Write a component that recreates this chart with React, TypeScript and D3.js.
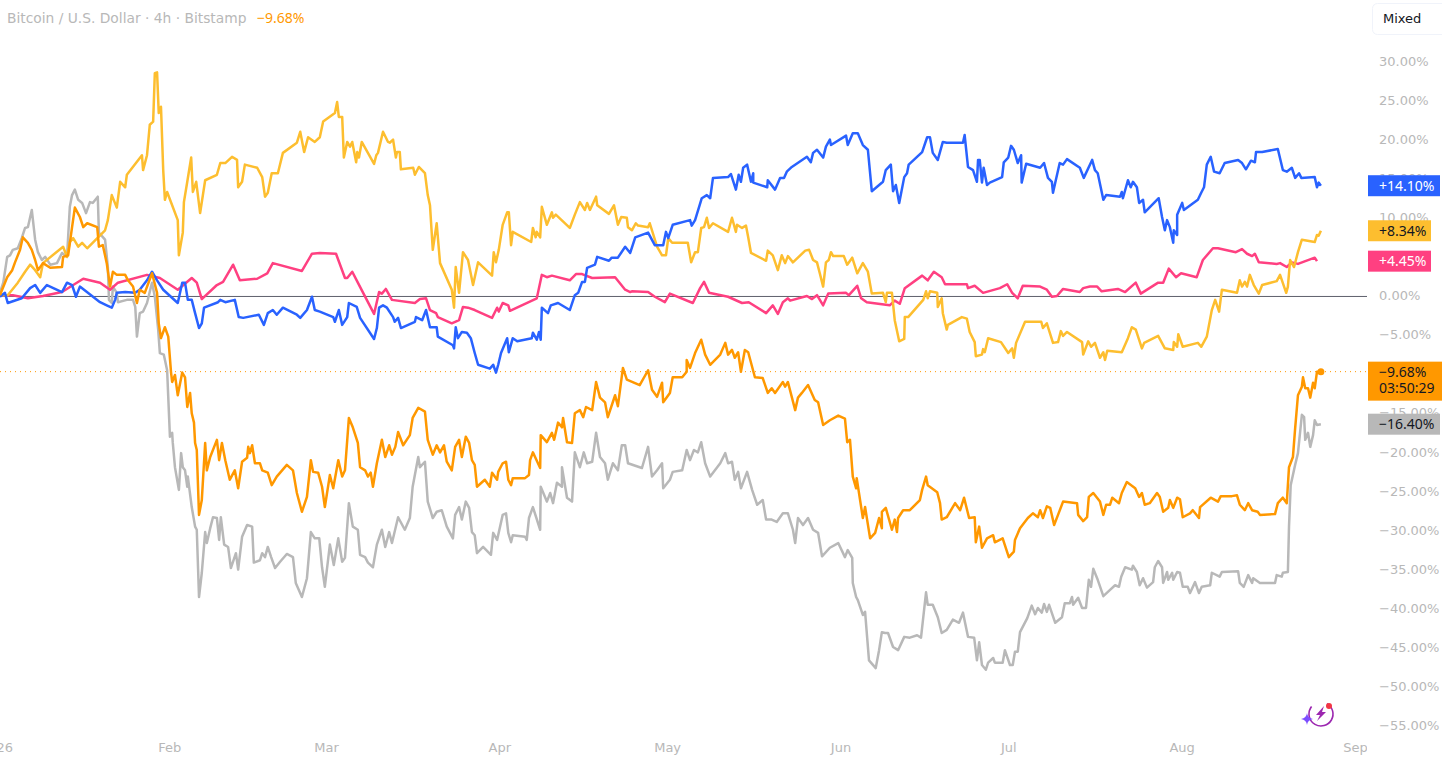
import { useEffect, useRef } from "react";
import * as d3 from "d3";

type Pt = [number, number]; // [days since 1 Jan 2026, % change]

const yTicks = [30, 25, 20, 15, 10, 5, 0, -5, -10, -15, -20, -25, -30, -35, -40, -45, -50, -55];
const monthStarts = [0, 31, 59, 90, 120, 151, 181, 212, 243];
const monthLabels = ["2026", "Feb", "Mar", "Apr", "May", "Jun", "Jul", "Aug", "Sep"];

const btc: Pt[] = [[0.7,0.1],[1.6,1.7],[2,2.4],[2.9,3.3],[3.4,4.3],[4.3,5.9],[4.8,7.5],[5.7,6.8],[6.4,5.9],[7,4.6],[7.5,3.3],[8.4,4.2],[9.7,3.6],[11.8,3.7],[12,5],[12.9,5.2],[13.6,8.8],[14.1,11.3],[15,10.1],[15.6,8.8],[16.3,9.3],[18.1,8.8],[18.4,6.3],[19.1,6.5],[19.8,4.2],[20.4,1.2],[20.9,3.1],[21.6,2.7],[23.1,2.7],[23.6,2],[24.5,1.2],[25.2,-0.9],[25.7,0.8],[26.6,0.4],[27.9,2.9],[28.8,0.4],[29.1,-3.5],[29.5,-5.4],[30.2,-4],[30.8,-5.2],[31.3,-9.8],[31.5,-11],[32,-10.1],[32.5,-12.7],[33.3,-9.8],[33.8,-10.4],[34.2,-14.2],[34.7,-12.4],[35,-15],[35.4,-16.2],[35.6,-18.8],[35.9,-19.7],[36.3,-28],[36.8,-26.1],[37.4,-18.8],[37.7,-22.3],[38.3,-20.6],[39.5,-18.4],[39.9,-21],[40.4,-18.8],[41,-21],[41.8,-23.5],[42.7,-22.3],[43.3,-24.6],[44,-21.2],[44.9,-20.7],[45.1,-19.3],[45.4,-20.1],[45.8,-19.1],[46.3,-21.4],[47.2,-21.4],[47.6,-22.3],[48.6,-22.6],[49.3,-24.2],[50.2,-23.1],[52,-21.6],[53.1,-22.3],[53.8,-25.2],[54.7,-27.6],[55.6,-25.7],[56.3,-21],[56.7,-22.5],[57.6,-22.6],[58.3,-24.4],[58.8,-27],[59.7,-22.9],[60.3,-24.6],[61.2,-21],[61.9,-23.1],[62.4,-22.3],[63.1,-15.6],[63.8,-16.8],[64.7,-18.8],[65.1,-21.9],[66,-22.3],[66.5,-23.1],[67,-22.6],[67.4,-24.4],[68.1,-21.4],[69,-18.4],[69.6,-20.6],[70.3,-19.1],[70.8,-20.3],[71.4,-19.3],[71.9,-17.4],[72.8,-19.1],[74,-17.8],[74.5,-15.6],[75.5,-14.3],[76.7,-14.8],[77.2,-18.4],[78.1,-20.3],[78.8,-19.1],[79.4,-20],[80.1,-19.1],[80.6,-21.2],[81.5,-22.3],[82.1,-19.3],[82.8,-18.4],[83.3,-20.6],[84,-18],[84.6,-18.8],[85.1,-21],[85.6,-21.6],[86,-24.4],[87.4,-23.5],[88.3,-24.4],[88.7,-22.6],[89.6,-23.5],[89.8,-22.5],[90.6,-21.4],[91.2,-21.2],[91.6,-23.5],[92.1,-24.2],[92.4,-23.3],[94.6,-23.3],[95.3,-22.9],[95.5,-21],[96,-20],[97.3,-22],[97.4,-17.8],[98.5,-18.7],[99.4,-17.5],[99.8,-18.4],[100.5,-16.2],[101.2,-16.8],[101.4,-15.6],[102.1,-18.7],[103,-18.8],[103.5,-15],[104.4,-14.6],[105,-15.5],[105.5,-14.2],[106.6,-14.6],[107.3,-11],[108,-13],[108.9,-13.6],[109.4,-15.5],[110.7,-12.7],[111.2,-14.1],[112.1,-9.2],[112.8,-10.7],[115.1,-11.4],[116.6,-9.5],[117.3,-12],[118.2,-12.9],[119.1,-11.1],[119.3,-13.6],[120.5,-12.4],[121,-10.4],[122.7,-10.4],[123.5,-9.7],[123.5,-8.2],[124.1,-9.2],[125,-7.3],[126.1,-5.6],[126.8,-7.5],[127.7,-8.8],[129.5,-7.5],[130.4,-6],[130.9,-7.5],[131.6,-6.9],[132.1,-7.9],[132.7,-7.2],[133.2,-9.7],[133.9,-6.9],[134.5,-7.2],[135.7,-10.4],[137.1,-10.5],[138,-12.4],[138.7,-11.8],[139.3,-12.4],[140.7,-11],[141.1,-11.6],[141.6,-11],[142.9,-14.6],[143.4,-13],[144.1,-12.4],[145.2,-11.4],[146.4,-13.3],[147,-13.6],[147.9,-16.5],[149.1,-15.9],[150.6,-15.3],[151.8,-15.7],[152.2,-18.7],[152.7,-18.4],[153.2,-23.1],[153.8,-24.6],[153.9,-23.3],[155,-28.4],[155.4,-27],[156.3,-31],[157.2,-30.3],[157.9,-28.4],[158.4,-29.7],[158.4,-27.6],[159.1,-27.1],[160.2,-29.9],[160.7,-28.6],[161.1,-30.2],[161.3,-28.4],[162.2,-27.4],[163.4,-27.4],[165.2,-26.1],[165.6,-24.8],[166.3,-23.1],[166.6,-24.2],[168.3,-25.1],[168.8,-26.5],[169.1,-28.6],[170,-28.3],[171.5,-26.5],[172.4,-27.4],[173.1,-25.8],[174,-28.4],[175,-28.3],[175.2,-31.5],[175.8,-29.5],[176.3,-32.2],[177.2,-31],[178.3,-30.6],[178.6,-31.5],[180,-31],[181.1,-33.4],[182,-32.7],[182.2,-31.2],[183.1,-29.7],[184.5,-28.4],[185.4,-27.8],[186.3,-28.3],[186.7,-27.4],[187.2,-28.4],[187.9,-26.9],[188.5,-27.1],[189.2,-29.3],[189.9,-28],[190.8,-26.3],[193.3,-26.5],[193.5,-28],[194.4,-28.8],[195.1,-28.3],[195.4,-25.7],[196.2,-25.2],[197.4,-26.3],[198,-28],[198.5,-26.7],[199.2,-26.7],[199.6,-25.8],[200.8,-26.5],[201.3,-25.2],[202.2,-23.8],[203.7,-24.6],[204.4,-25.7],[204.9,-25.2],[205.4,-26.7],[206.3,-26.5],[207.6,-25.2],[208.1,-25.7],[208.7,-27.6],[209.6,-27.1],[209.9,-26.1],[210.5,-27.1],[211.2,-25.8],[211.7,-26],[212.2,-28.3],[213.5,-27.8],[214,-27.4],[215.1,-28.4],[215.3,-27],[217.2,-25.8],[218.5,-26.3],[219,-25.6],[221,-25.6],[221.9,-25.5],[222.4,-26.7],[223.3,-27.4],[223.9,-26.5],[224.6,-27.4],[225.6,-27.6],[226,-28],[228.7,-27.9],[229.2,-26.5],[230.1,-25.8],[230.8,-26.5],[231.2,-21.9],[231.9,-20.6],[232.3,-16.9],[232.8,-12.7],[233.5,-11.6],[233.7,-10.4],[234.1,-11.8],[234.6,-11.8],[235,-13],[235.5,-11.1],[235.8,-11.8],[236.2,-9.7],[236.9,-9.68]];

const gray: Pt[] = [[0.7,0.4],[1.3,1.7],[2,5],[2.5,5.2],[3,5.9],[3.9,6.1],[4.6,7.4],[5.2,8.7],[5.7,8.8],[6.4,11],[7,7.2],[7.5,5.6],[8.2,4.6],[8.8,5],[9.7,4],[10.9,4.2],[11.8,5.5],[12.7,5],[13.2,11.4],[13.6,12.9],[14.1,13.6],[14.7,12.3],[15.4,11.9],[16.1,10.6],[16.8,12],[17.3,11.9],[18.2,12.7],[18.4,8.1],[19.5,7.2],[20,3.7],[20.2,-0.5],[20.7,-0.9],[20.9,1.2],[21.6,0.4],[21.8,-0.8],[23.4,-0.5],[24.5,-0.5],[24.9,-1.4],[25.2,-5.2],[25.7,-2.2],[26.3,-2],[27,-0.9],[27.9,1.7],[28.4,-0.1],[29,-4.3],[29.3,-7.3],[30,-7.5],[30.6,-9.5],[30.8,-12.9],[31.1,-18],[31.5,-17.5],[31.6,-18.7],[32,-21.9],[32.7,-24.8],[33.1,-20.1],[33.4,-21.9],[33.8,-22.3],[34.2,-24.4],[34.3,-23.1],[35,-27],[35.6,-29.5],[35.9,-29.9],[36.3,-38.5],[36.8,-35.4],[37.4,-30.2],[37.7,-31.6],[38.3,-29.7],[38.8,-28.3],[39.5,-28.4],[39.9,-31.2],[40.2,-28.3],[40.8,-31.8],[41.5,-32.1],[42,-34.8],[42.9,-32.9],[43.3,-35],[44,-30.8],[44.9,-29.3],[45.8,-29.5],[46.1,-34.1],[47.2,-33.8],[47.6,-32.9],[48.1,-33.4],[48.6,-32.1],[49.2,-33.4],[49.9,-34.8],[50.8,-34],[52,-33],[53.1,-33.4],[53.6,-36.7],[54.7,-38.5],[55.6,-36.1],[56.3,-30.2],[57,-31],[57.8,-31],[58.3,-34.7],[58.8,-37.2],[59.7,-31.8],[60.4,-34.4],[61.2,-31],[61.9,-34],[62.4,-33.5],[63.1,-26.5],[63.8,-29.5],[64.7,-29.9],[65.1,-33.1],[66,-33.4],[66.5,-34.1],[67.4,-34.7],[68.1,-31.8],[69,-29.9],[69.6,-32.1],[70.3,-30.2],[70.8,-31.6],[71.9,-28.3],[73.1,-29.9],[74,-28.4],[74.5,-24.4],[75.5,-20.6],[75.8,-21.9],[76.7,-21.2],[77.2,-26.3],[78.1,-28.4],[78.8,-27.6],[79.7,-27.4],[80.6,-29.5],[81.7,-31],[82.1,-28],[82.8,-27],[83.3,-28.6],[84,-26.3],[84.6,-27.1],[85.1,-30.2],[85.6,-30.6],[86,-32.9],[87.1,-32.1],[88.5,-33.1],[88.9,-30.3],[89.6,-31.2],[90.6,-28],[91.2,-27.8],[91.6,-30.3],[92.1,-31.5],[92.4,-30.6],[94.6,-30.8],[94.9,-31.2],[95.3,-28.4],[96,-27],[97.3,-29.9],[97.4,-24.4],[98.5,-26.3],[99.1,-25.2],[99.6,-26.5],[100.3,-23.9],[101.2,-24.4],[101.2,-21.9],[102.1,-25.8],[103,-26.3],[103.5,-20],[104.4,-21.9],[105.1,-20],[105.7,-21.4],[106.6,-21.2],[107.3,-17.5],[108,-20.6],[108.9,-21.4],[109.4,-23.5],[110.3,-21.4],[111.2,-22.3],[111.9,-19.1],[112.5,-19.1],[113,-21.4],[115.5,-22],[116.6,-19.3],[117.3,-23.1],[118.2,-22.3],[119.1,-21.4],[119.3,-24.6],[120.5,-23.5],[121,-22.5],[122.7,-22.3],[123.5,-19.7],[124.1,-21],[124.8,-19.7],[125.5,-20],[126.1,-18.7],[126.8,-21.4],[127.7,-23.1],[129.5,-21.4],[130.4,-20.1],[130.9,-21.4],[131.6,-21.2],[132.1,-23.5],[132.7,-22.5],[133.2,-24.6],[134.3,-22.5],[135.2,-24.8],[136.1,-26.7],[137.1,-26.1],[137.7,-28.6],[138.7,-28.6],[139.6,-28.9],[140.7,-27.8],[141.6,-27.8],[142.5,-29.9],[142.9,-31.6],[143.4,-28.4],[144.3,-29.3],[145.2,-28.4],[146.1,-29.9],[147,-30.3],[147.7,-33.3],[149.1,-32.2],[150.6,-31.6],[151.8,-33.4],[152.3,-32.5],[153.1,-33.5],[153.2,-36.7],[153.8,-38.5],[154.1,-38.9],[155,-40.8],[155.4,-40.4],[156.1,-46.6],[157.3,-47.6],[157.9,-45.3],[158.4,-43],[159,-43.1],[159.5,-43.1],[160.4,-44.9],[161.3,-45.3],[162.4,-43.6],[163.4,-43.7],[164.7,-43.4],[165.4,-43.7],[166.3,-37.9],[166.6,-39.5],[167.5,-39.5],[168.4,-41.1],[169.1,-43.1],[170,-42.7],[171.1,-41.4],[172.2,-41.8],[172.9,-40.5],[173.8,-43.6],[174.9,-43.7],[175.4,-46.6],[175.8,-44.3],[176.3,-47.2],[177,-47.8],[177.4,-46.9],[178.3,-46.3],[178.6,-46.9],[180,-46.9],[180.4,-45.3],[181.3,-47.2],[181.8,-47.2],[182.2,-45.5],[182.7,-45.5],[183.1,-43],[184.4,-41.2],[185.2,-39.6],[185.8,-40.7],[186.3,-39.9],[187,-40.5],[187.4,-39.4],[187.9,-40.4],[188.3,-39.5],[189.4,-41.8],[190.6,-41.1],[191.1,-39.3],[192,-39.3],[192.4,-38.5],[192.6,-39.5],[193.5,-38.6],[194.2,-39.9],[194.9,-39.9],[195.4,-36.3],[195.8,-37.2],[196.2,-34.9],[197,-36.3],[198,-38.4],[199.2,-37.6],[200.1,-37],[200.8,-37.2],[201.2,-35.9],[201.9,-34.7],[203.1,-35],[203.3,-34.5],[204,-35.3],[204.5,-37],[205.1,-36.1],[205.8,-37.3],[206.9,-36.6],[207.2,-34.7],[207.8,-33.9],[208.5,-34.7],[208.7,-36.7],[209.4,-35.3],[209.6,-36.3],[210.3,-35.4],[210.5,-36.3],[211.2,-35.3],[211.7,-35.4],[212.2,-37.2],[213.1,-37.2],[213.5,-38],[214.4,-36.6],[215.1,-38],[215.6,-37.2],[217.1,-37],[217.4,-35.4],[218.8,-35.9],[219.2,-35.3],[222.1,-35.2],[222.4,-36.7],[223.1,-37.2],[223.9,-35.7],[224.6,-36.7],[224.8,-36.1],[226,-36.7],[228.7,-36.7],[229,-35.7],[229.9,-35.9],[230.1,-35.4],[231,-35.3],[231.2,-29.5],[231.5,-24.2],[232.3,-21.6],[232.8,-20.1],[233.5,-15.2],[233.9,-15.5],[234.1,-18.4],[234.6,-17.5],[235,-19.3],[235.5,-17.8],[235.8,-15.9],[236.2,-16.5],[236.9,-16.4]];

const yellow: Pt[] = [[0.7,0.1],[2.1,0.1],[3.9,1.7],[5.2,3.1],[6.1,4],[7,3.3],[7.9,2.4],[8.4,4.2],[12,6.3],[12.7,5],[13.2,6.9],[13.8,7.4],[14.7,6.3],[15.4,6.8],[16.3,6.1],[19.5,8.4],[20,9.7],[20.7,12.9],[21.6,11.3],[22.2,14.6],[23.1,13.9],[23.4,15.5],[26.1,18],[26.3,16.1],[27,18],[27.5,21.9],[28.1,22.3],[28.4,28.5],[28.8,28.6],[29.1,23.4],[29.5,24.2],[29.9,16.1],[30.2,12.3],[30.6,13.3],[32.5,9.7],[32.7,5.2],[33.4,8.1],[33.6,12],[34.2,14.6],[34.9,17.7],[35.2,13.3],[35.8,14.6],[36.5,10.6],[37.4,14.8],[39.5,15.5],[40.1,17],[41,17],[42.2,17.8],[43.1,17.4],[43.3,13.9],[44,14.6],[44.5,16.8],[46.7,16.4],[47.6,15.2],[48.1,12.7],[48.6,13.2],[49.3,15.7],[50.4,15.7],[51.3,18.3],[53.8,19.6],[54.4,21],[55.1,18.4],[55.8,20.3],[57,19.7],[57.9,20.3],[58.5,22.3],[60.6,23.4],[61,24.8],[61.3,22.9],[61.9,22.9],[62.2,17.7],[62.8,19.7],[63.3,19.1],[63.7,19.7],[64.4,17.1],[64.6,18.4],[64.9,17.7],[65.4,19.7],[67.6,16.9],[68,18],[68.3,18.3],[69.2,21],[70.1,19.7],[70.4,19.6],[71,20],[71.5,17.7],[71.7,18.4],[72.2,18.4],[72.4,16.2],[74.6,16.4],[74.9,15.5],[75.6,16.5],[76.7,15.7],[77.2,12.9],[77.6,11.6],[78.1,5.9],[78.8,9.3],[79.4,4.2],[81.5,0.8],[81.9,-1.5],[82.2,3.7],[82.8,0.4],[83.5,5.6],[84.4,4.6],[85.3,1.4],[86.2,4.3],[88.7,2.6],[89,5.6],[89.4,4.3],[89.9,5.9],[90.6,9.1],[91.4,10.7],[91.7,10.7],[92.1,6.5],[92.4,8.2],[95.7,6.9],[96,8.7],[96.5,7.5],[96.7,8.2],[97.3,7.5],[97.6,11.4],[98.5,9.1],[99.4,10.7],[99.6,10],[100.1,10.4],[102.6,8.7],[103.5,10.4],[104.4,12],[105.3,11],[105.7,11.9],[106.2,11],[107.3,12.7],[107.5,11.6],[109.6,10.5],[110.5,11.6],[111.2,9.1],[111.8,10.1],[112.8,10],[113,8.8],[113.7,8.4],[114.4,9.3],[114.8,9],[116.6,8.8],[116.9,9.3],[118.2,6.3],[119.1,5.2],[119.8,5.2],[120.2,7.4],[120.9,6.8],[123.7,6.8],[124.3,4.3],[125,5.6],[125.5,5.6],[126.1,8.7],[126.6,8.8],[127.1,10],[127.5,8.7],[128.2,9.3],[130.9,8.2],[131.6,10],[132.3,8.2],[132.5,9.1],[133.4,8.7],[134.1,9],[134.5,7.5],[135,5.5],[137.7,4.5],[138,5.8],[138.9,5.2],[139.8,3.3],[140.5,5.2],[141.1,4.2],[141.6,5.1],[142.5,4.3],[144.7,5.8],[145.4,5.9],[146.1,4.6],[146.8,4.3],[147.3,2.9],[147.9,1.2],[148.4,4.3],[148.9,4.6],[149.3,5.6],[149.7,5.1],[151.6,5.1],[152.2,4],[153.1,4.9],[154,2.9],[155,4.2],[155.9,3.1],[156.6,0.3],[158.6,0.4],[159.1,-0.8],[159.3,0.4],[160.2,0.4],[160.7,-3.1],[161.5,-5.8],[162.4,-5.5],[162.5,-2.7],[163.1,-2.7],[165.8,-0.5],[166.3,0.6],[166.6,-0.3],[167,0.6],[168.3,0.4],[168.4,-1.4],[169.1,-0.3],[169.3,-2.2],[170,-4.3],[170.2,-3.7],[172.7,-2.7],[173.6,-2.9],[174.1,-4.6],[175,-5.9],[175.2,-7.7],[176.3,-7.5],[176.5,-6.8],[176.8,-7.2],[177.4,-5.4],[179.7,-5.9],[181,-7.3],[181.7,-6.7],[182,-7.9],[182.4,-6],[184,-3.3],[186.9,-3.3],[187.2,-4.1],[187.9,-3.5],[189,-6],[189.9,-5.9],[190.4,-4.5],[190.8,-5.1],[191.5,-4.6],[194.2,-5.9],[194.4,-7.5],[195.3,-5.8],[195.8,-6.5],[196.5,-6],[197.4,-7.9],[198,-7.2],[198.3,-8.2],[198.7,-7],[201.3,-7.2],[202.4,-5.4],[203.1,-4],[203.8,-4.3],[204.9,-6.7],[205.3,-6],[207.8,-5.1],[209,-6.7],[210.5,-6.9],[210.6,-5.9],[211.2,-6.5],[211.4,-4.9],[212.2,-6.5],[214.9,-6],[215.5,-6.5],[216.5,-5.2],[217.4,-1.8],[218,-0.5],[218.7,-2],[219.2,0.8],[221.9,0.4],[222.4,2],[222.8,1.2],[223.3,1.8],[223.7,1.2],[224.2,2.7],[224.9,1.4],[225.8,0.3],[226.4,1.4],[229,1.9],[229.6,2.7],[230.7,0.4],[231,1.2],[231.4,4.6],[232.1,3.7],[232.8,5.6],[233.5,7.2],[235.8,6.9],[236.2,7.8],[236.5,7.7],[236.9,8.34]];

const blue: Pt[] = [[0.7,-0.1],[1.6,0.4],[2.1,-0.9],[4.6,-0.3],[6.1,1],[7,1.4],[7.9,0.4],[9.1,1.4],[11.8,0.5],[12.7,1.7],[13.6,1.4],[14.3,-0.1],[15,1.2],[18.6,-0.8],[19.8,-1.2],[20.7,-1.5],[21.3,-0.5],[21.6,0.4],[23.1,0.5],[24.9,0.4],[25.7,0.8],[27,2],[27.9,3.1],[28.8,2],[29.9,0.8],[32.5,-0.9],[33.3,1.7],[33.8,1.7],[34.3,-0.5],[35,-0.5],[35.6,-2.2],[36.3,-4.1],[36.8,-3.5],[37.2,-1.5],[39.7,-0.8],[40.1,-0.5],[41,-0.8],[42.7,-0.5],[43.4,-2.7],[44.2,-2.8],[47,-2.4],[47.9,-3.7],[48.6,-2.2],[49.5,-1.8],[50.2,-2.4],[51.3,-1.5],[53.8,-2.4],[54.4,-2.8],[55.6,-1.8],[56.5,-0.1],[57,-1.8],[57.9,-2],[60.3,-2.7],[60.6,-3.3],[61.3,-1.8],[61.9,-3.7],[62.8,-2.7],[63.1,-0.9],[64.5,-1.4],[65.1,-2.8],[67.6,-5.5],[68.1,-4.1],[68.5,-1.5],[69.2,-1.2],[69.9,-1.5],[71,-2.7],[71.3,-3.3],[71.9,-2.8],[72.4,-4.1],[74.9,-3.3],[75.1,-2.7],[76.2,-3.1],[76.9,-1.8],[77.6,-4],[78.8,-4],[79,-5.2],[81.7,-6.3],[81.9,-6.7],[82.2,-4],[82.6,-5.4],[83.3,-4.6],[84.2,-4.7],[84.9,-5.4],[85.6,-7.3],[86.2,-8.8],[88.3,-9.3],[88.9,-8.8],[89.4,-9.8],[89.8,-8.8],[90.3,-7.3],[91.4,-5.4],[91.7,-7.2],[92.4,-5.4],[93.2,-5.8],[95.8,-5.4],[96,-4.7],[96.7,-5.6],[97.1,-4.6],[97.4,-5.6],[97.6,-1.5],[98.7,-2.2],[99.2,-1.2],[100.5,-0.9],[102.6,-1.8],[103.5,0.1],[104.1,0.4],[104.8,1.8],[105.3,1.8],[105.7,3.6],[107.1,4],[107.5,5],[109.6,4.5],[110.1,4.9],[111.2,4.9],[112.5,6.3],[113.4,5.5],[114.3,7.5],[116.6,8.1],[117.8,6.5],[119.3,6.5],[119.8,8.2],[120.2,7.4],[121,9.1],[124.1,9.7],[124.4,9],[125,9.7],[126.2,12.5],[127.1,12.9],[127.7,12.5],[128.2,15.1],[130.9,15.2],[131.4,15.6],[132.3,13.6],[132.8,15.5],[133.2,14.6],[133.6,16.4],[134.3,16.8],[135,14.6],[135.4,15.7],[135.4,14.5],[137.9,13.9],[138,14.8],[139.3,13.6],[140.2,15.1],[140.9,15.1],[141.4,15.9],[142.3,16.5],[145,17.8],[145.7,17.1],[146.1,18.3],[146.8,18.7],[147.9,17.7],[148.4,19.1],[149.1,20],[149.3,19.3],[152,20.5],[152.3,19.3],[153.2,20.8],[154.1,20.8],[155,19.3],[155.9,18.7],[156.6,13.4],[158.6,14.6],[159.1,16.1],[160,16.8],[160.4,13.4],[160.9,14.2],[161.5,11.9],[162.4,15.2],[162.9,15.7],[163.2,16.8],[165.6,18.4],[166.5,20.3],[167,20.3],[167.5,18.3],[168.4,17.4],[169.3,19.7],[170,19.6],[172.9,19.6],[173.2,20.6],[173.8,16.5],[174.7,16.1],[175.4,14.6],[175.6,17.4],[175.9,17.4],[176.3,14.5],[176.6,16.4],[177.2,14.2],[177.7,14.5],[179.9,15.2],[180.2,17.1],[181,17.7],[181.5,19.2],[182,18.7],[182.7,17],[183.3,18],[183.4,14.5],[184.2,16.9],[186.7,16.4],[187.4,17],[188.1,15.1],[188.8,14.6],[189,13.2],[189.5,14.8],[190.2,17],[190.8,16.8],[191.5,17.5],[193.8,16.4],[194.5,15.1],[196,17.4],[196.5,16.1],[197,15.7],[198,12.3],[198.5,12.9],[201,12.7],[201.3,13.3],[201.5,12.5],[202.4,14.8],[202.9,13.9],[203.3,14.6],[204,13.9],[204.4,11.9],[205.1,12.3],[205.4,10.7],[207.9,12.5],[208.5,10.1],[209,8.4],[209.4,9.7],[209.9,8.8],[210.5,6.8],[210.6,8.4],[211.2,7.8],[211.2,10.4],[212.1,11.9],[212.4,11],[214.9,12.3],[215.5,13.2],[216,13.9],[216.5,16.8],[217.2,17.8],[217.8,15.9],[218.8,15.7],[219.7,17],[222.1,17.4],[222.8,17],[223.5,16.2],[224.4,17.3],[225.1,17.1],[225.3,18.4],[226.4,18.4],[229.2,18.8],[230.1,16.1],[230.8,15.9],[231.7,16.4],[232.3,15.1],[233,15.7],[233.4,15.1],[235.8,15.2],[236.2,13.9],[236.5,14.5],[236.9,14.1]];

const pink: Pt[] = [[0.7,0.1],[3,0.1],[5.7,-0.3],[8.4,0],[11.8,0.5],[15.6,2.2],[18.6,1.7],[20.4,0.8],[21.8,1.7],[27,2.7],[29.3,2.3],[32.5,0.8],[35,2.3],[35.9,1.7],[36.8,-0.4],[39.5,1.4],[40.6,1.8],[42.4,4],[43.6,2],[46.7,2.2],[48.5,2.9],[49.5,4.2],[54.7,3.2],[56.5,5.4],[57.9,5.5],[60.8,5.4],[62.4,2.3],[62.8,2.3],[63.7,3.1],[64.7,1.7],[67.6,-2.3],[68.5,0.5],[69,0.3],[69.7,0.9],[70.8,-0.5],[74.9,-0.9],[75.8,-0.4],[76.9,-0.3],[77.6,-1.8],[78.7,-2.2],[79,-2.7],[81.5,-3.5],[82.8,-3.1],[83.5,-1.4],[84.4,-1.5],[85.6,-1.8],[88.7,-2.8],[89.6,-1.5],[89.9,-2],[90.6,-0.9],[91.6,-1.2],[91.9,-1.9],[96.7,-0.3],[97.6,2.7],[98.5,2.4],[99.4,2.6],[102.6,2],[103.7,2.8],[104.8,2.8],[106.6,2.3],[110.7,2.4],[112.5,0.8],[113.4,0.5],[113.7,0.6],[116.6,0.5],[117.8,-0.1],[119.6,-0.8],[120.5,0.3],[124.6,-0.9],[125.9,1],[126.6,1.8],[127.5,0.4],[130.9,-0.1],[133.4,-0.9],[134.6,-0.8],[137.7,-2.2],[138.9,-1.2],[139.8,-2.3],[140.7,-0.8],[141.6,-0.3],[142,-0.6],[145,0],[145.9,-0.4],[146.8,0.1],[147.9,-1.2],[148.8,0.3],[152,0.4],[152.5,0.1],[154,1.3],[154.7,-0.3],[155.7,-0.8],[159.8,-1.2],[160.7,-0.6],[161.6,-1],[162.5,1],[165.6,2.6],[166.6,2],[167.7,3.1],[169.1,2.4],[169.7,1.5],[173.6,1.5],[173.8,1],[175,1.3],[176.5,0.4],[179.5,1],[180.8,1.5],[181.7,0.4],[182.7,-0.3],[183.6,1.3],[186.7,1.2],[187.9,0.8],[188.8,-0.1],[189.7,0],[190.8,0.9],[193.8,0.5],[194.4,1],[195.6,1.2],[196.9,1.2],[197.7,0.6],[200.6,0.9],[201.9,0.5],[203.8,1.7],[204.7,0.3],[207.8,1.7],[208.7,1.7],[209.7,3.5],[211,2.4],[211.9,2.9],[214.7,2.4],[215.8,4.6],[217.6,6.1],[218.5,6.1],[221.7,5.6],[222.8,6],[223.7,5.4],[224.6,5.1],[225.1,5.4],[225.8,4.3],[229,4.1],[229.6,4.2],[230.8,3.7],[231.7,4.3],[232.8,4.1],[235.8,4.9],[236.2,4.45]];

const FONT = "'DejaVu Sans', sans-serif";
const BADGE_FONT = "'Noto Sans', sans-serif";
const AXIS_GRAY = "#b8b8b8";
const start = Date.UTC(2026, 0, 1);
const toDate = (d: number) => new Date(start + d * 864e5);

export default function App() {
    const chartRef = useRef<SVGSVGElement | null>(null);

    useEffect(() => {
        if (!chartRef.current) return;

        const svg = d3.select(chartRef.current);
        svg.selectAll("*").remove();

        const x = d3.scaleUtc().domain([toDate(0), toDate(243)]).range([-4, 1355]);
        const y = d3.scaleLinear().domain([30, -55]).range([61.4, 726]);

        const defs = svg.append("defs");
        defs.append("clipPath").attr("id", "pane").append("rect").attr("width", 1367).attr("height", 762);
        defs.append("clipPath").attr("id", "priceAxis").append("rect").attr("x", 1368).attr("width", 74).attr("height", 731);

        // axes
        const pctFormat = (v: number) => d3.format(".2f")(v) + "%";
        const yAxis = svg.append("g")
            .attr("clip-path", "url(#priceAxis)")
            .append("g")
            .attr("transform", "translate(1379,-0.5)")
            .call(d3.axisRight(y).tickValues(yTicks).tickSize(0).tickPadding(0).tickFormat((v) => pctFormat(+v)));
        yAxis.select(".domain").remove();
        yAxis.selectAll("text").attr("font-family", FONT).attr("font-size", 13).attr("fill", AXIS_GRAY);

        const xAxis = svg.append("g")
            .attr("clip-path", "url(#pane)")
            .append("g")
            .attr("transform", "translate(0,743)")
            .call(d3.axisBottom(x)
                .tickValues(monthStarts.map(toDate))
                .tickSize(0)
                .tickPadding(0)
                .tickFormat((_, i) => monthLabels[i]));
        xAxis.select(".domain").remove();
        xAxis.selectAll("text").attr("font-family", FONT).attr("font-size", 13).attr("fill", AXIS_GRAY);

        const pane = svg.append("g").attr("clip-path", "url(#pane)");

        // zero line and last price line
        pane.append("line").attr("x1", 0).attr("x2", 1367).attr("y1", y(0) + 0.5).attr("y2", y(0) + 0.5)
            .attr("stroke", "#5d606b").attr("stroke-width", 1);
        pane.append("line").attr("x1", 0).attr("x2", 1367).attr("y1", y(-9.68)).attr("y2", y(-9.68))
            .attr("stroke", "#ff9800").attr("stroke-width", 1).attr("stroke-dasharray", "1 4");

        const line = d3.line<Pt>().x((d) => x(toDate(d[0]))).y((d) => y(d[1]));
        const series: { pts: Pt[]; color: string }[] = [
            { pts: gray, color: "#b8b8b8" },
            { pts: pink, color: "#ff4081" },
            { pts: yellow, color: "#fdbe2f" },
            { pts: blue, color: "#2962ff" },
            { pts: btc, color: "#ff9800" },
        ];
        series.forEach((s) => {
            pane.append("path")
                .attr("d", line(s.pts))
                .attr("fill", "none")
                .attr("stroke", s.color)
                .attr("stroke-width", 2.5)
                .attr("stroke-linejoin", "round");
        });

        const last = btc[btc.length - 1];
        pane.append("circle").attr("cx", x(toDate(last[0]))).attr("cy", y(last[1])).attr("r", 3.5).attr("fill", "#ff9800");

        // price badges
        const badges = [
            { v: 14.1, text: "+14.10%", w: 72, bg: "#2962ff", fg: "#ffffff" },
            { v: 8.34, text: "+8.34%", w: 63, bg: "#fdbe2f", fg: "#131722" },
            { v: 4.45, text: "+4.45%", w: 63, bg: "#ff4081", fg: "#ffffff" },
            { v: -16.4, text: "\u221216.40%", w: 72, bg: "#b8b8b8", fg: "#131722" },
        ];
        badges.forEach((b) => {
            svg.append("rect").attr("x", 1368).attr("y", y(b.v) - 10.5).attr("width", b.w).attr("height", 21).attr("fill", b.bg);
            svg.append("text").attr("x", 1379).attr("y", y(b.v) + 5)
                .attr("font-family", BADGE_FONT).attr("font-size", 14).attr("fill", b.fg).text(b.text);
        });
        svg.append("rect").attr("x", 1368).attr("y", y(-9.68) - 10).attr("width", 74).attr("height", 39).attr("fill", "#ff9800");
        svg.append("text").attr("x", 1379).attr("y", y(-9.68) + 5)
            .attr("font-family", BADGE_FONT).attr("font-size", 14).attr("fill", "#131722").text("\u22129.68%");
        svg.append("text").attr("x", 1379).attr("y", y(-9.68) + 21)
            .attr("font-family", BADGE_FONT).attr("font-size", 14).attr("fill", "#131722").text("03:50:29");

        // header
        svg.append("text").attr("x", 7).attr("y", 23).attr("font-family", FONT).attr("font-size", 13.8)
            .attr("fill", AXIS_GRAY).text("Bitcoin / U.S. Dollar \u00b7 4h \u00b7 Bitstamp");
        svg.append("text").attr("x", 257).attr("y", 23).attr("font-family", BADGE_FONT).attr("font-size", 14)
            .attr("fill", "#ff9800").text("\u22129.68%");

        // scale mode button
        svg.append("rect").attr("x", 1372.5).attr("y", 3.5).attr("width", 80).attr("height", 31).attr("rx", 5)
            .attr("fill", "#ffffff").attr("stroke", "#f0f3fa");
        svg.append("text").attr("x", 1383).attr("y", 23)
            .attr("font-family", FONT).attr("font-size", 13).attr("fill", "#131722").text("Mixed");

        // assistant icon
        const icon = svg.append("g").attr("transform", "translate(1321,714)");
        icon.append("circle").attr("r", 12).attr("fill", "none").attr("stroke", "#9c27b0").attr("stroke-width", 1.6)
            .attr("stroke-dasharray", "58 18").attr("transform", "rotate(-60)");
        icon.append("path").attr("d", "M3,-8 L-5,1 L-1,1 L-4,7 L5,-2 L1,-2 Z").attr("fill", "#9c27b0");
        icon.append("circle").attr("cx", 8).attr("cy", -8).attr("r", 3).attr("fill", "#f23645");
        icon.append("path").attr("d", "M-14,-1 Q-13.5,4 -8,5 Q-13.5,6 -14,11 Q-14.5,6 -20,5 Q-14.5,4 -14,-1 Z").attr("fill", "#7c4dff");
    }, []);

    return <svg ref={chartRef} width={1442} height={762} style={{ position: "absolute", left: 0, top: 0, background: "#fff" }}></svg>;
}
